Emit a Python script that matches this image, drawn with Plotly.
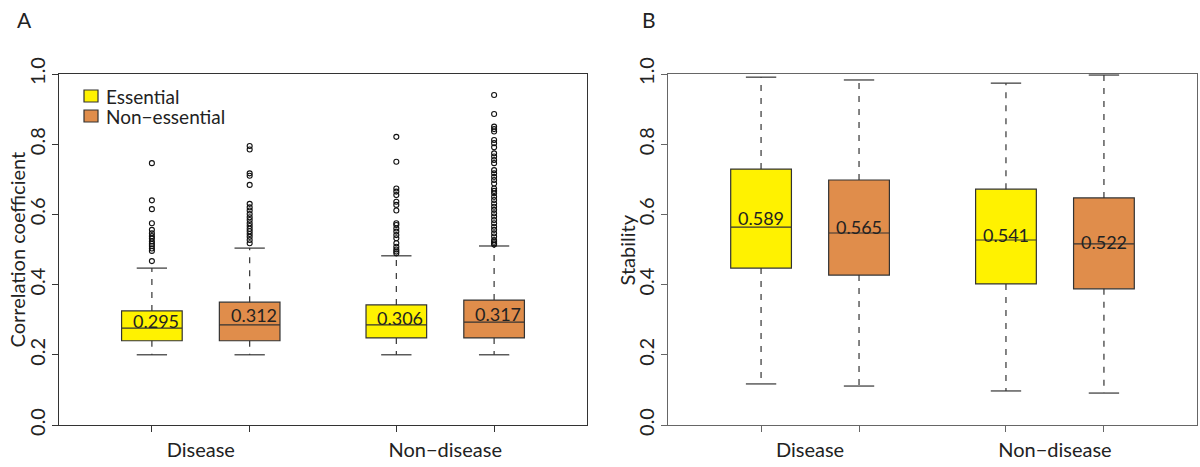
import plotly.graph_objects as go

# Layout of the boxes: two groups, each with an essential and a non-essential box
groups = ["Disease", "Non−disease"]
group_pos = [1.5, 4.0]
box_pos = [1, 2, 3.5, 4.5]
box_kind = ["Essential", "Non−essential", "Essential", "Non−essential"]

# Panel A: correlation coefficient
corr_q1 = [0.240, 0.240, 0.248, 0.248]
corr_median = [0.276, 0.285, 0.285, 0.293]
corr_q3 = [0.325, 0.350, 0.342, 0.356]
corr_low = [0.200, 0.200, 0.200, 0.200]
corr_high = [0.447, 0.504, 0.482, 0.510]
corr_mean = ["0.295", "0.312", "0.306", "0.317"]
corr_out_dis_ess = [0.746, 0.640, 0.615, 0.575, 0.556, 0.546, 0.538, 0.531, 0.523,
                    0.516, 0.510, 0.503, 0.496, 0.467]
corr_out_dis_non = [0.795, 0.785, 0.717, 0.710, 0.684, 0.630, 0.620, 0.611, 0.601,
                    0.592, 0.584, 0.575, 0.567, 0.559, 0.552, 0.544, 0.536, 0.527, 0.518]
corr_out_nd_ess = [0.821, 0.750, 0.674, 0.665, 0.655, 0.636, 0.627, 0.611, 0.575,
                   0.570, 0.560, 0.551, 0.541, 0.532, 0.518, 0.508, 0.500, 0.494, 0.489]
corr_out_nd_non = [0.940, 0.886, 0.850, 0.843, 0.836, 0.812, 0.803, 0.791, 0.774,
                   0.765, 0.755, 0.746, 0.726, 0.717, 0.707, 0.698, 0.688, 0.674,
                   0.667, 0.660, 0.650, 0.641, 0.631, 0.622, 0.613, 0.603, 0.594,
                   0.584, 0.575, 0.565, 0.556, 0.546, 0.537, 0.527, 0.522, 0.518, 0.514]
corr_outliers = [corr_out_dis_ess, corr_out_dis_non, corr_out_nd_ess, corr_out_nd_non]

# Panel B: stability
stab_q1 = [0.447, 0.427, 0.402, 0.388]
stab_median = [0.564, 0.547, 0.527, 0.516]
stab_q3 = [0.729, 0.698, 0.672, 0.647]
stab_low = [0.117, 0.111, 0.097, 0.091]
stab_high = [0.991, 0.983, 0.974, 0.997]
stab_mean = ["0.589", "0.565", "0.541", "0.522"]

y_ticks = [0.0, 0.2, 0.4, 0.6, 0.8, 1.0]

colors = {"Essential": "#FFF200", "Non−essential": "#E08D4B"}
edge = "#333333"
font = "Lato, 'Open Sans', sans-serif"
box_w = 0.62
cap_w = 0.31

fig = go.Figure()


def add_panel(xa, ya, q1, med, q3, low, high, means, outliers, label_dx):
    for i, p in enumerate(box_pos):
        fig.add_trace(go.Box(
            x=[p], q1=[q1[i]], median=[med[i]], q3=[q3[i]],
            lowerfence=[q1[i]], upperfence=[q3[i]],
            width=box_w, fillcolor=colors[box_kind[i]],
            line=dict(color=edge, width=1.2), boxpoints=False,
            xaxis=xa, yaxis=ya, showlegend=False, hoverinfo="skip"))
        # dashed whiskers
        fig.add_trace(go.Scatter(
            x=[p, p, None, p, p], y=[q3[i], high[i], None, q1[i], low[i]],
            mode="lines", line=dict(color=edge, width=1.2, dash="6px,7px"),
            xaxis=xa, yaxis=ya, showlegend=False, hoverinfo="skip", cliponaxis=False))
        # staples
        fig.add_trace(go.Scatter(
            x=[p - cap_w / 2, p + cap_w / 2, None, p - cap_w / 2, p + cap_w / 2],
            y=[high[i], high[i], None, low[i], low[i]],
            mode="lines", line=dict(color=edge, width=1.2),
            xaxis=xa, yaxis=ya, showlegend=False, hoverinfo="skip", cliponaxis=False))
        if outliers is not None:
            fig.add_trace(go.Scatter(
                x=[p] * len(outliers[i]), y=outliers[i], mode="markers",
                marker=dict(symbol="circle-open", size=5, color="#111111",
                            line=dict(width=1.1)),
                xaxis=xa, yaxis=ya, showlegend=False, hoverinfo="skip"))
        fig.add_annotation(x=p + label_dx, y=float(means[i]), text=means[i],
                           xref=xa, yref=ya, showarrow=False,
                           font=dict(size=18, color="#222222", family=font))


add_panel("x", "y", corr_q1, corr_median, corr_q3, corr_low, corr_high,
          corr_mean, corr_outliers, 0.04)
add_panel("x2", "y2", stab_q1, stab_median, stab_q3, stab_low, stab_high,
          stab_mean, None, 0.0)

ydom = [42 / 467, 393 / 467]


def xaxis_style(domain, linecolor):
    return dict(domain=domain, range=[0.05, 5.45], showgrid=False, zeroline=False,
                showline=True, mirror=True, linecolor=linecolor, linewidth=1.2,
                tickmode="array", tickvals=group_pos, ticktext=groups, ticks="",
                ticklabelstandoff=7, automargin=False,
                tickfont=dict(size=20, color="#222222", family=font),
                minor=dict(tickmode="array", tickvals=box_pos, ticks="outside",
                           ticklen=6, tickcolor=linecolor, tickwidth=1.2),
                fixedrange=True)


def yaxis_style(anchor, linecolor):
    return dict(domain=ydom, range=[0, 1], anchor=anchor, showgrid=False,
                zeroline=False, showline=True, mirror=True, linecolor=linecolor,
                linewidth=1.2, tickmode="array", tickvals=y_ticks,
                ticktext=[f"{v:.1f}" for v in y_ticks], ticks="outside",
                ticklen=6, tickcolor=linecolor, tickwidth=1.2, tickangle=-90,
                ticklabelstandoff=-1, automargin=False,
                tickfont=dict(size=20, color="#222222", family=font),
                fixedrange=True)


fig.update_layout(
    width=1200, height=467, margin=dict(l=0, r=0, t=0, b=0, autoexpand=False),
    paper_bgcolor="white", plot_bgcolor="white", showlegend=False,
    xaxis=dict(xaxis_style([59 / 1200, 587 / 1200], "#333333"), anchor="y"),
    yaxis=yaxis_style("x", "#333333"),
    xaxis2=dict(xaxis_style([668 / 1200, 1197 / 1200], "#666666"), anchor="y2"),
    yaxis2=yaxis_style("x2", "#666666"),
    font=dict(family=font, color="#222222"),
)

# axis titles and panel letters
ymid = (ydom[0] + ydom[1]) / 2
fig.add_annotation(x=16 / 1200, y=ymid, xref="paper", yref="paper",
                   xanchor="center", yanchor="middle",
                   text="Correlation coefficient", textangle=-90, showarrow=False,
                   font=dict(size=20, family=font, color="#222222"))
fig.add_annotation(x=626 / 1200, y=ymid, xref="paper", yref="paper",
                   xanchor="center", yanchor="middle",
                   text="Stability", textangle=-90, showarrow=False,
                   font=dict(size=20, family=font, color="#222222"))
fig.add_annotation(x=24 / 1200, y=1 - 20 / 467, xref="paper", yref="paper", text="A",
                   xanchor="center", yanchor="middle", showarrow=False,
                   font=dict(size=21, family=font, color="#222222"))
fig.add_annotation(x=649 / 1200, y=1 - 20 / 467, xref="paper", yref="paper", text="B",
                   xanchor="center", yanchor="middle", showarrow=False,
                   font=dict(size=21, family=font, color="#222222"))

# legend keys in panel A
for j, kind in enumerate(["Essential", "Non−essential"]):
    top = 90 + j * 20
    fig.add_shape(type="rect", xref="paper", yref="paper",
                  x0=84 / 1200, x1=98 / 1200, y0=1 - (top + 12) / 467, y1=1 - top / 467,
                  fillcolor=colors[kind], line=dict(color=edge, width=1.2))
    fig.add_annotation(x=104 / 1200, y=1 - (top + 6) / 467, xref="paper", yref="paper",
                       text=kind, xanchor="left", yanchor="middle", showarrow=False,
                       font=dict(size=19, family=font, color="#222222"))

fig.write_html("out.html", config={"displayModeBar": False},
               post_script="document.body.style.margin='0';")
